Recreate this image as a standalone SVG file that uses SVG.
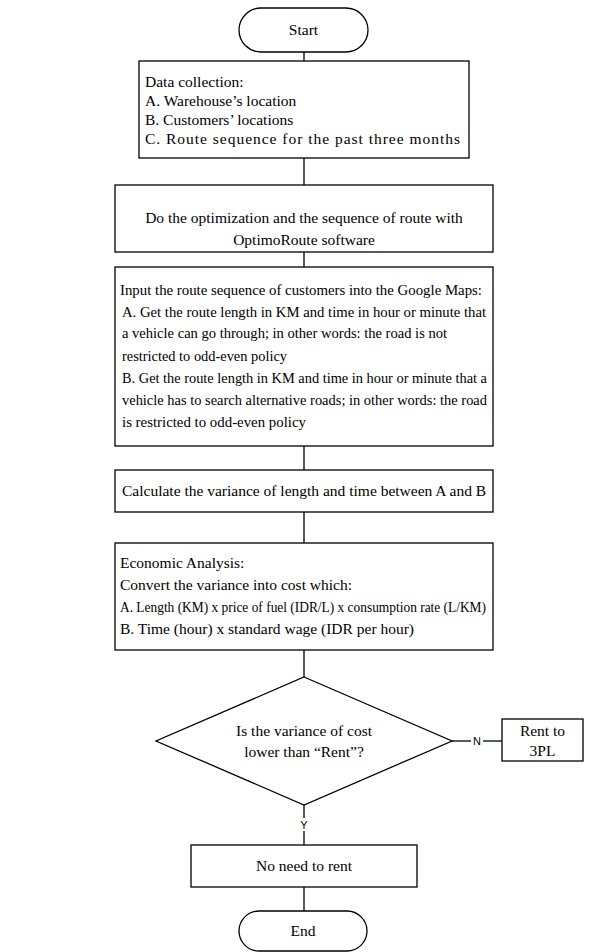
<svg xmlns="http://www.w3.org/2000/svg" width="615" height="952" viewBox="0 0 615 952">
<style>
.s{fill:#fff;stroke:#000;stroke-width:1.3}
.t{font-family:"Liberation Serif","Times New Roman",serif;font-size:15.5px;fill:#000}
.c{text-anchor:middle}
.l{font-family:"Liberation Sans",Arial,sans-serif;font-size:11px;fill:#000;text-anchor:middle}
.w{stroke:#000;stroke-width:1.3;fill:none}
</style>
<rect width="615" height="952" fill="#fff"/>
<g id="connectors">
<line class="w" x1="304" y1="52" x2="304" y2="61"/>
<line class="w" x1="304" y1="158" x2="304" y2="185"/>
<line class="w" x1="304" y1="252" x2="304" y2="267"/>
<line class="w" x1="304" y1="446" x2="304" y2="470"/>
<line class="w" x1="304" y1="512" x2="304" y2="543"/>
<line class="w" x1="304" y1="650" x2="304" y2="677"/>
<line class="w" x1="304" y1="805" x2="304" y2="818"/>
<line class="w" x1="304" y1="831" x2="304" y2="845"/>
<text class="l" x="304" y="829">Y</text>
<line class="w" x1="452" y1="741" x2="471" y2="741"/>
<line class="w" x1="483" y1="741" x2="502" y2="741"/>
<text class="l" x="477" y="745">N</text>
<line class="w" x1="304" y1="887" x2="304" y2="911"/>
</g>
<g id="start">
<rect class="s" x="239" y="8" width="129" height="44" rx="22"/>
<text class="t c" x="303.5" y="35">Start</text>
</g>
<g id="data">
<rect class="s" x="139" y="61" width="330" height="97"/>
<text class="t" x="145" y="87">Data collection:</text>
<text class="t" x="145" y="106">A. Warehouse’s location</text>
<text class="t" x="145" y="125">B. Customers’ locations</text>
<text class="t" x="145" y="144" textLength="315" lengthAdjust="spacing">C. Route sequence for the past three months</text>
</g>
<g id="optimize">
<rect class="s" x="115" y="185" width="378" height="67"/>
<text class="t c" x="304" y="223">Do  the optimization and the sequence of route with</text>
<text class="t c" x="304" y="245">OptimoRoute software</text>
</g>
<g id="input">
<rect class="s" x="115" y="267" width="378" height="179"/>
<text class="t" x="120" y="295" textLength="362" lengthAdjust="spacingAndGlyphs"> Input the route sequence of customers into the Google Maps:</text>
<text class="t" x="122" y="317" textLength="364" lengthAdjust="spacingAndGlyphs">A. Get the route length in KM and time in hour or minute that</text>
<text class="t" x="122" y="338" textLength="325" lengthAdjust="spacingAndGlyphs">a vehicle can go through; in other words: the road is not</text>
<text class="t" x="122" y="361" textLength="165" lengthAdjust="spacingAndGlyphs">restricted to odd-even policy</text>
<text class="t" x="122" y="383" textLength="365" lengthAdjust="spacingAndGlyphs">B. Get the route length in KM and time in hour or minute that a</text>
<text class="t" x="122" y="405" textLength="365" lengthAdjust="spacingAndGlyphs">vehicle has to search alternative roads; in other words: the road</text>
<text class="t" x="122" y="427" textLength="184" lengthAdjust="spacingAndGlyphs">is restricted to odd-even policy</text>
</g>
<g id="calc">
<rect class="s" x="115" y="470" width="378" height="42"/>
<text class="t" x="122" y="496">Calculate the variance of length and time between A and B</text>
</g>
<g id="econ">
<rect class="s" x="115" y="543" width="378" height="107"/>
<text class="t" x="120" y="568">Economic Analysis:</text>
<text class="t" x="120" y="590">Convert the variance into cost which:</text>
<text class="t" x="120" y="612" textLength="366" lengthAdjust="spacingAndGlyphs">A. Length (KM) x price of fuel (IDR/L) x consumption rate (L/KM)</text>
<text class="t" x="120" y="634">B. Time (hour) x standard wage (IDR per hour)</text>
</g>
<g id="decision">
<polygon class="s" points="304,677 452,741 304,805 156,741"/>
<text class="t c" x="304" y="736">Is the variance of cost</text>
<text class="t c" x="304" y="757">lower than “Rent”?</text>
</g>
<g id="rent">
<rect class="s" x="502" y="719" width="81" height="42"/>
<text class="t c" x="542.5" y="736">Rent to</text>
<text class="t c" x="542.5" y="756">3PL</text>
</g>
<g id="norent">
<rect class="s" x="191" y="845" width="226" height="42"/>
<text class="t c" x="304" y="871">No need to rent</text>
</g>
<g id="end">
<rect class="s" x="239" y="911" width="128" height="40" rx="20"/>
<text class="t c" x="303" y="936">End</text>
</g>
</svg>
